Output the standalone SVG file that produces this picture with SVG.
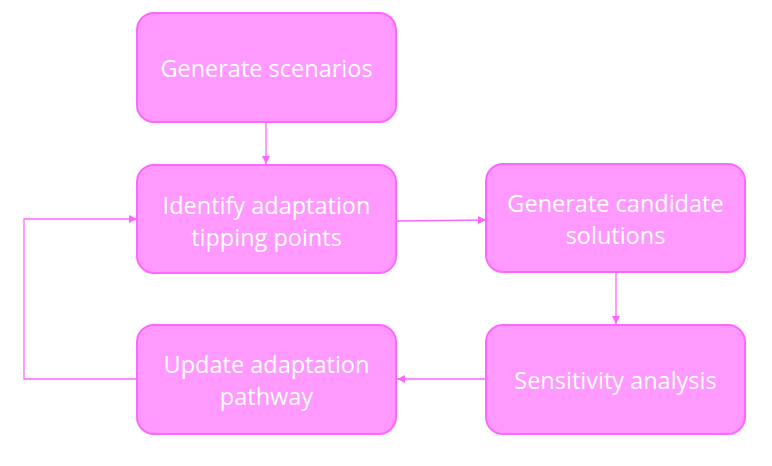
<svg xmlns="http://www.w3.org/2000/svg" width="772" height="466" viewBox="0 0 772 466">
<style>
.box{fill:#FF99FF;stroke:#FF66FF;stroke-width:2}
.t{font-family:"Open Sans","Liberation Sans",sans-serif;font-size:23.5px;fill:#FFFFFF;text-anchor:middle}
.c{fill:none;stroke:#FF66FF;stroke-width:1.3}
</style>
<defs>
<marker id="a" viewBox="0 0 10 10" refX="10" refY="5" markerWidth="8" markerHeight="8" markerUnits="userSpaceOnUse" orient="auto">
<path d="M0,0 L10,5 L0,10 z" fill="#FF66FF"/>
</marker>
</defs>
<rect width="772" height="466" fill="#FFFFFF"/>
<g id="connectors">
<line class="c" x1="266" y1="122" x2="266" y2="164" marker-end="url(#a)"/>
<line class="c" x1="396" y1="221" x2="486" y2="220" marker-end="url(#a)"/>
<line class="c" x1="616" y1="272" x2="616" y2="324" marker-end="url(#a)"/>
<line class="c" x1="486" y1="379" x2="397" y2="379" marker-end="url(#a)"/>
<polyline class="c" points="137,379 24,379 24,219 137,219" marker-end="url(#a)"/>
</g>
<g id="n1"><rect class="box" x="137" y="13" width="259" height="109" rx="17"/><text class="t" x="266.5" y="77">Generate scenarios</text></g>
<g id="n2"><rect class="box" x="137" y="165" width="259" height="108" rx="17"/><text class="t" x="266.5" y="214">Identify adaptation</text><text class="t" x="266.5" y="246">tipping points</text></g>
<g id="n3"><rect class="box" x="486" y="164" width="259" height="108" rx="17"/><text class="t" x="615.5" y="212">Generate candidate</text><text class="t" x="615.5" y="244">solutions</text></g>
<g id="n4"><rect class="box" x="486" y="325" width="259" height="109" rx="17"/><text class="t" x="615.5" y="389">Sensitivity analysis</text></g>
<g id="n5"><rect class="box" x="137" y="325" width="259" height="109" rx="17"/><text class="t" x="266.5" y="373">Update adaptation</text><text class="t" x="266.5" y="405">pathway</text></g>
</svg>
